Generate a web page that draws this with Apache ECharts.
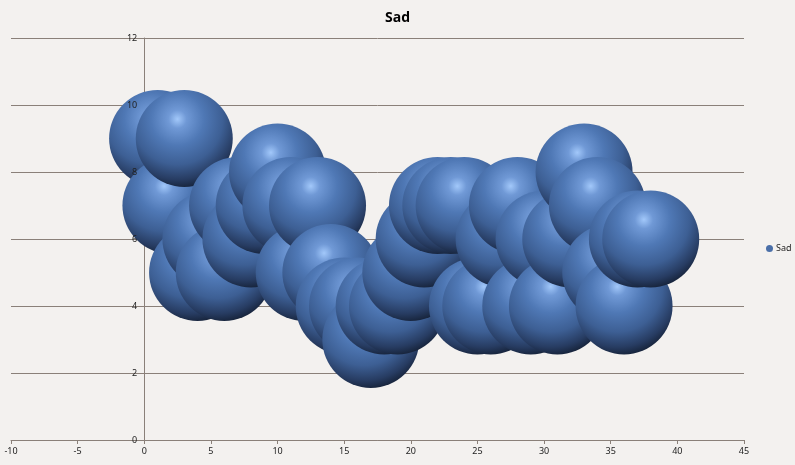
<!DOCTYPE html>
<html>
<head>
<meta charset="utf-8">
<script src="https://cdn.jsdelivr.net/npm/echarts@6/dist/echarts.min.js"></script>
<style>
html,body{margin:0;padding:0;background:#f3f1ef;}
#chart{width:795px;height:465px;}
</style>
</head>
<body>
<div id="chart"></div>
<script>
const seriesName = 'Sad';
const xValues = [1, 2, 3, 4, 5, 6, 7, 8, 9, 10, 11, 12, 13, 14, 15, 16, 17, 18, 19, 20, 21, 22, 23, 24, 25, 26, 27, 28, 29, 30, 31, 32, 33, 34, 35, 36, 37, 38];
const yValues = [9, 7, 9, 5, 6, 5, 7, 6, 7, 8, 7, 5, 7, 5, 4, 4, 3, 4, 4, 5, 6, 7, 7, 7, 4, 4, 6, 7, 4, 6, 4, 6, 8, 7, 5, 4, 6, 6];
const bubbleSizes = xValues.map(() => 1);
const xTicks = [-10, -5, 0, 5, 10, 15, 20, 25, 30, 35, 40, 45];
const yTicks = [0, 2, 4, 6, 8, 10, 12];

const data = xValues.map((x, i) => [x, yValues[i], bubbleSizes[i]]);

const sphere = {
  type: 'radial', x: 0.43, y: 0.30, r: 0.78,
  colorStops: [
    { offset: 0, color: '#a2c8fa' },
    { offset: 0.12, color: '#7099d6' },
    { offset: 0.35, color: '#4f78b5' },
    { offset: 0.6, color: '#3d5f94' },
    { offset: 0.8, color: '#273c62' },
    { offset: 1, color: '#0a111d' }
  ]
};

const gridLeft = 11, gridRight = 51;
const plotWidth = 795 - gridLeft - gridRight;
const yAxisShift = -plotWidth * (0 - xTicks[0]) / (xTicks[xTicks.length - 1] - xTicks[0]);
const axisColor = '#8a8079';
const labelFont = { fontFamily: 'Noto Sans', fontSize: 9, color: '#222' };

const chart = echarts.init(document.getElementById('chart'), null, { renderer: 'canvas' });
chart.setOption({
  backgroundColor: '#f3f1ef',
  animation: false,
  title: {
    text: 'Sad', left: 'center', top: 6,
    textStyle: { fontFamily: 'Open Sans', fontSize: 14, fontWeight: 'bold', color: '#000' }
  },
  legend: {
    data: [seriesName], orient: 'vertical', left: 761, top: 239,
    icon: 'circle', itemWidth: 7, itemHeight: 7, itemGap: 4,
    textStyle: Object.assign({ padding: [0, 0, 0, -2] }, labelFont),
    itemStyle: { color: '#4a6fa8' }
  },
  grid: { left: gridLeft, right: gridRight, top: 38, bottom: 25, outerBoundsMode: 'none', containLabel: false },
  xAxis: {
    type: 'value', min: xTicks[0], max: xTicks[xTicks.length - 1], interval: 5,
    axisLine: { show: true, onZero: false, lineStyle: { color: axisColor, width: 1 } },
    axisTick: { show: true, length: 4, lineStyle: { color: axisColor } },
    axisLabel: Object.assign({ margin: 7 }, labelFont),
    splitLine: { show: false }
  },
  yAxis: [{
    type: 'value', min: yTicks[0], max: yTicks[yTicks.length - 1], interval: 2,
    offset: yAxisShift, z: 0,
    axisLine: { show: true, onZero: false, lineStyle: { color: axisColor, width: 1 } },
    axisTick: { show: false },
    axisLabel: { show: false },
    splitLine: { show: true, lineStyle: { color: axisColor, width: 1 } }
  }, {
    type: 'value', position: 'left', min: yTicks[0], max: yTicks[yTicks.length - 1], interval: 2,
    offset: yAxisShift, z: 10,
    axisLine: { show: false, onZero: false },
    axisTick: { show: false },
    axisLabel: Object.assign({ show: true, margin: 7 }, labelFont),
    splitLine: { show: false }
  }],
  series: [{
    name: seriesName, type: 'scatter', data: data, yAxisIndex: 0,
    symbol: 'circle', symbolSize: 97, clip: false,
    itemStyle: { color: sphere, opacity: 1 },
    emphasis: { disabled: true }
  }]
});
</script>
</body>
</html>
